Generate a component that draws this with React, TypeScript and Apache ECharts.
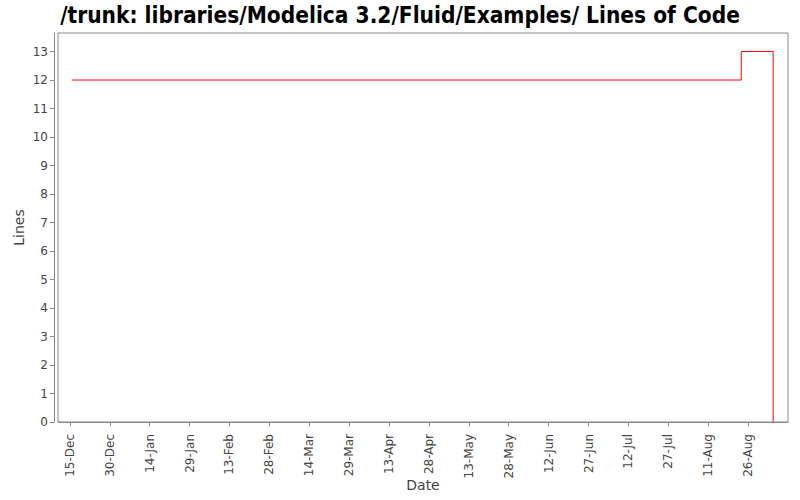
import React, { useEffect, useRef } from "react";
import * as echarts from "echarts";

const titleText = "/trunk: libraries/Modelica 3.2/Fluid/Examples/ Lines of Code";
const pointDates = ["2011-12-15T18:00:00", "2012-08-23T10:00:00", "2012-09-04T10:00:00", "2012-09-04T10:00:00"];
const pointLines = [12, 13, 13, 0];
const tickDates = [
  "2011-12-15", "2011-12-30", "2012-01-14", "2012-01-29", "2012-02-13", "2012-02-28",
  "2012-03-14", "2012-03-29", "2012-04-13", "2012-04-28", "2012-05-13", "2012-05-28",
  "2012-06-12", "2012-06-27", "2012-07-12", "2012-07-27", "2012-08-11", "2012-08-26",
];
const yTicks = [0, 1, 2, 3, 4, 5, 6, 7, 8, 9, 10, 11, 12, 13];
const monthNames = ["Jan", "Feb", "Mar", "Apr", "May", "Jun", "Jul", "Aug", "Sep", "Oct", "Nov", "Dec"];
const xMinDate = "2011-12-10T13:00:00";
const xMaxDate = "2012-09-10T00:00:00";

const ts = (s: string) => new Date(s).getTime();

export default function App() {
  const ref = useRef<HTMLDivElement>(null);
  useEffect(() => {
    if (!ref.current) return;
    const chart = echarts.init(ref.current, null, { renderer: "svg" });
    const font = "'DejaVu Sans', sans-serif";
    chart.setOption({
      animation: false,
      title: {
        text: titleText,
        left: "center",
        top: -2,
        textStyle: { fontFamily: "'DejaVu Sans Condensed', 'DejaVu Sans', sans-serif", fontWeight: "bold", fontSize: 22.5, color: "#000" },
      },
      grid: {
        left: 58,
        right: 12,
        top: 33,
        bottom: 78,
        outerBoundsMode: "none",
        show: true,
        borderColor: "#888",
        borderWidth: 1,
        backgroundColor: "#fff",
      },
      xAxis: {
        type: "value",
        min: ts(xMinDate),
        max: ts(xMaxDate),
        offset: 4,
        name: "Date",
        nameLocation: "middle",
        nameGap: 52,
        nameMoveOverlap: false,
        nameTextStyle: { fontFamily: font, fontSize: 14, color: "#444" },
        axisLine: { show: true, lineStyle: { color: "#888", width: 1 } },
        axisTick: { show: true, length: 4, lineStyle: { color: "#888" }, customValues: tickDates.map(ts) },
        splitLine: { show: false },
        axisLabel: {
          customValues: tickDates.map(ts),
          rotate: 90,
          margin: 8,
          fontFamily: font,
          fontSize: 12,
          color: "#444",
          formatter: (v: number) => {
            const d = new Date(v);
            return d.getDate() + "-" + monthNames[d.getMonth()];
          },
        },
      },
      yAxis: {
        type: "value",
        min: 0,
        max: 13.65,
        offset: 4,
        name: "Lines",
        nameLocation: "middle",
        nameGap: 28,
        nameMoveOverlap: false,
        nameTextStyle: { fontFamily: font, fontSize: 14, color: "#444" },
        axisLine: { show: true, lineStyle: { color: "#888", width: 1 } },
        axisTick: { show: true, length: 4, lineStyle: { color: "#888" }, customValues: yTicks },
        splitLine: { show: false },
        axisLabel: { customValues: yTicks, margin: 6, fontFamily: font, fontSize: 12, color: "#444" },
      },
      series: [
        {
          type: "line",
          step: "end",
          data: pointDates.map((d, i) => [ts(d), pointLines[i]]),
          showSymbol: false,
          symbol: "none",
          lineStyle: { color: "#ff0000", width: 1 },
          silent: true,
        },
      ],
    });
    return () => chart.dispose();
  }, []);
  return <div ref={ref} style={{ width: 800, height: 500, position: "absolute", left: 0, top: 0 }} />;
}
